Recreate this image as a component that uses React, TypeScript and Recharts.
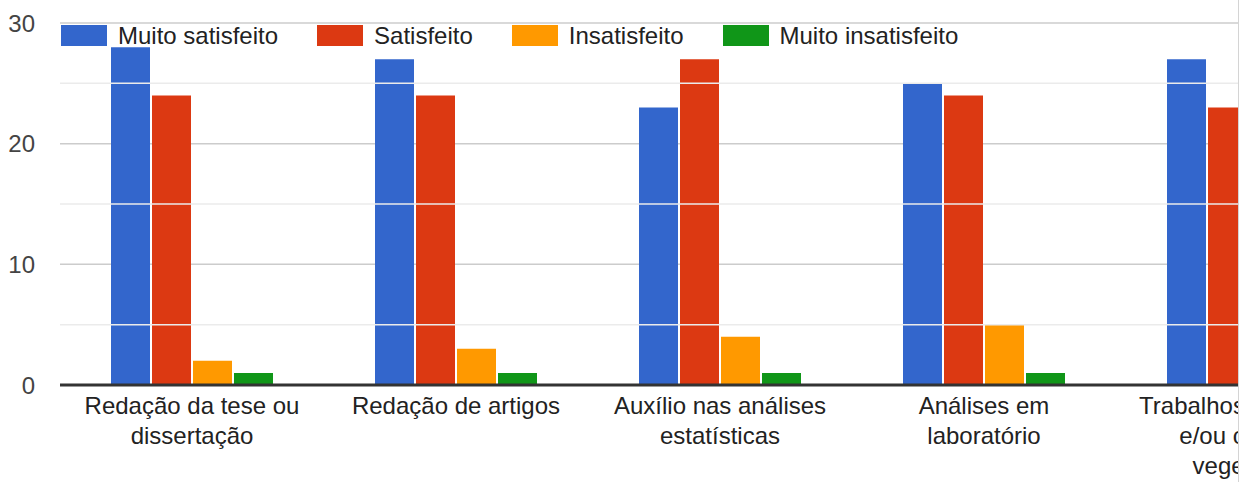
import { BarChart, Bar, XAxis, YAxis, CartesianGrid, ReferenceLine, Legend } from 'recharts';

const categories = [
  'Redação da tese ou\ndissertação',
  'Redação de artigos',
  'Auxílio nas análises\nestatísticas',
  'Análises em\nlaboratório',
  'Trabalhos de campo\ne/ou casa de\nvegetação',
];

const seriesNames = ['Muito satisfeito', 'Satisfeito', 'Insatisfeito', 'Muito insatisfeito'];
const seriesColors = ['#3366cc', '#dc3912', '#ff9900', '#109618'];

const muitoSatisfeito = [28, 27, 23, 25, 27];
const satisfeito = [24, 24, 27, 24, 23];
const insatisfeito = [2, 3, 4, 5, 3];
const muitoInsatisfeito = [1, 1, 1, 1, 1];

const yTicks = [0, 10, 20, 30];
const minorTicks = [5, 15, 25];

const seriesValues = [muitoSatisfeito, satisfeito, insatisfeito, muitoInsatisfeito];

const data = categories.map((name, i) => {
  const row: Record<string, string | number> = { name };
  seriesNames.forEach((s, j) => {
    row[s] = seriesValues[j][i];
  });
  return row;
});

const FONT = '"Liberation Sans", Arial, sans-serif';

// multi-line category label, one tspan per line
function CategoryTick({ x, y, payload }: { x?: number; y?: number; payload?: { value: string } }) {
  const lines = String(payload?.value ?? '').split('\n');
  return (
    <text x={x} y={y} textAnchor="middle" fill="#222" fontSize={24} fontFamily={FONT}>
      {lines.map((line, i) => (
        <tspan key={i} x={x} y={(y ?? 0) + 29 + i * 30}>
          {line}
        </tspan>
      ))}
    </text>
  );
}

function LegendContent() {
  return (
    <div style={{ display: 'flex', alignItems: 'center', fontFamily: FONT, fontSize: 24, color: '#222' }}>
      {seriesNames.map((s, i) => (
        <div key={s} style={{ display: 'flex', alignItems: 'center', marginRight: 39 }}>
          <span style={{ width: 46, height: 21, background: seriesColors[i], display: 'inline-block', marginRight: 11 }} />
          <span style={{ lineHeight: '21px', whiteSpace: 'nowrap' }}>{s}</span>
        </div>
      ))}
    </div>
  );
}

export default function App() {
  return (
    <div
      style={{
        position: 'absolute',
        left: 0,
        top: 0,
        width: 1238,
        height: 482,
        overflow: 'hidden',
        borderRight: '1px solid #d4d4d4',
        background: '#fff',
      }}
    >
      <BarChart
        width={1400}
        height={482}
        data={data}
        margin={{ top: 23, right: 20, left: 0, bottom: 0 }}
        barCategoryGap={51}
        barGap={2}
      >
        <CartesianGrid vertical={false} stroke="#cccccc" strokeWidth={1.5} />
        {minorTicks.map((t) => (
          <ReferenceLine key={t} y={t} stroke="#ebebeb" strokeWidth={1.5} />
        ))}
        <XAxis
          dataKey="name"
          interval={0}
          height={97}
          tickLine={false}
          tickSize={0}
          tickMargin={0}
          axisLine={{ stroke: '#333333', strokeWidth: 3 }}
          tick={<CategoryTick />}
        />
        <YAxis
          domain={[0, 30]}
          ticks={yTicks}
          width={60}
          axisLine={false}
          tickLine={false}
          tickSize={0}
          tickMargin={25}
          tick={{ fontSize: 24, fill: '#444', fontFamily: FONT }}
        />
        <Legend
          layout="horizontal"
          verticalAlign="middle"
          align="center"
          wrapperStyle={{ top: 25, left: 61, width: 'auto' }}
          content={<LegendContent />}
        />
        {seriesNames.map((s, i) => (
          <Bar key={s} dataKey={s} fill={seriesColors[i]} isAnimationActive={false} />
        ))}
      </BarChart>
    </div>
  );
}
